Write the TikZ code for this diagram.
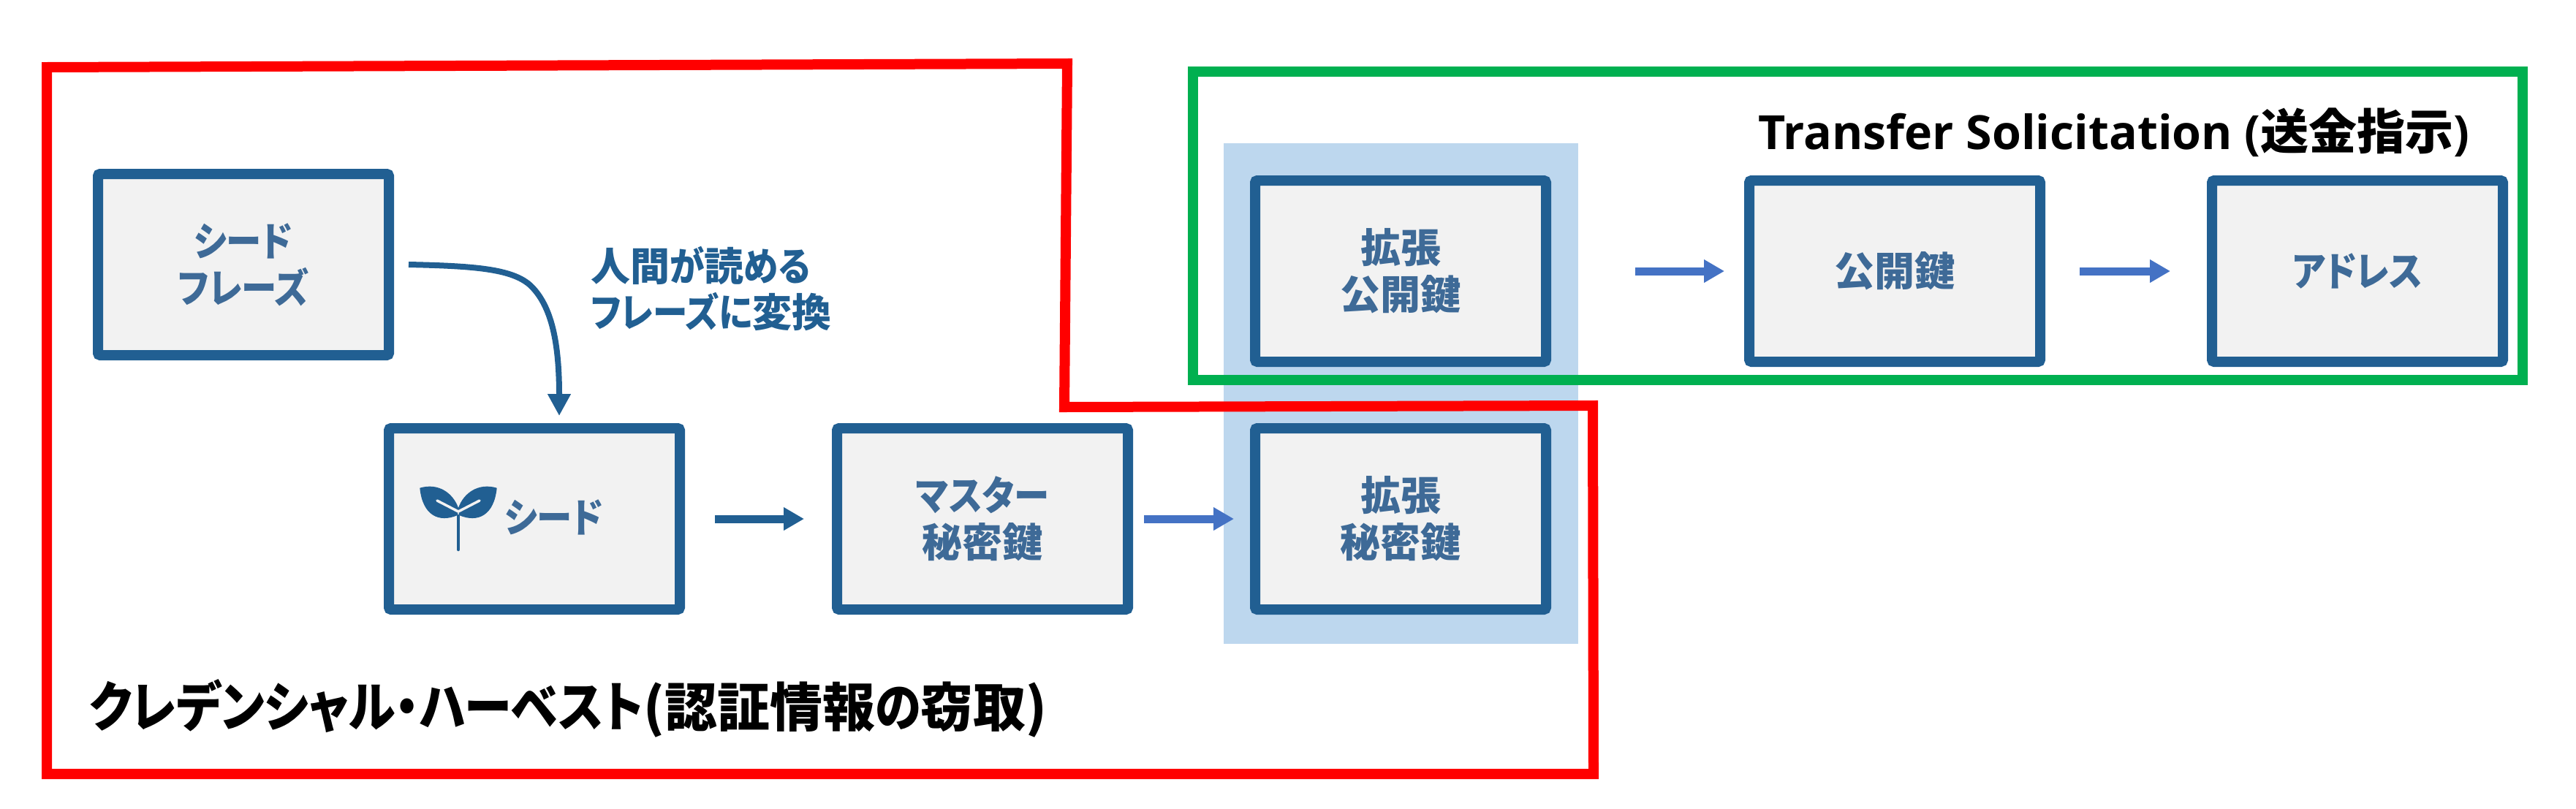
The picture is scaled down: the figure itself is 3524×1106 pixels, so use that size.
\documentclass[tikz,border=0pt]{standalone}
\usepackage{fontspec}
\usetikzlibrary{arrows.meta}
\newfontfamily\jp[RawFeature=+palt]{Noto Sans CJK JP}
\newfontfamily\jpk[RawFeature=+palt,FakeStretch=0.88]{Noto Sans CJK JP}
\newfontfamily\lat{Open Sans}
\newcommand{\kn}[1]{{\jpk\bfseries #1}}
\definecolor{boxblue}{HTML}{215F92}
\definecolor{boxfill}{HTML}{F2F2F2}
\definecolor{boxtext}{HTML}{3E6A97}
\definecolor{arrowblue}{HTML}{4472C4}
\definecolor{bandblue}{HTML}{BDD7EE}
\definecolor{framegreen}{HTML}{00B050}
\definecolor{framered}{HTML}{FF0000}
\tikzset{
  keybox/.style={draw=boxblue,fill=boxfill,line width=14pt,rounded corners=3pt,minimum width=398pt,minimum height=248pt,inner sep=0pt,outer sep=0pt,text=boxtext,align=center,font=\jp\bfseries\fontsize{55}{64}\selectfont},
  darrow/.style={draw=boxblue,line width=11pt,-{Triangle[length=28pt,width=30pt]}},
  larrow/.style={draw=arrowblue,line width=11pt,-{Triangle[length=28pt,width=30pt]}},
  carrow/.style={draw=boxblue,line width=8pt,-{Triangle[length=30pt,width=30pt]}},
  frame/.style={line width=14pt,miter limit=10},
  heading/.style={text=black,inner sep=0pt,outer sep=0pt,anchor=west},
  note/.style={text=boxblue,inner sep=0pt,outer sep=0pt,anchor=west,align=left,font=\jp\bfseries\fontsize{54}{63}\selectfont},
}
\begin{document}
\begin{tikzpicture}[x=1pt,y=-1pt]
\useasboundingbox (0,0) rectangle (3524,1106);
% band behind the extended keys
\fill[bandblue] (1674,196) rectangle (2159,881);
% frames
\draw[frame,draw=framegreen] (1632,98) rectangle (3451,520);
\draw[frame,draw=framered] (64,92) -- (1460,87) -- (1456,557) -- (2179,555) -- (2180,1059) -- (64,1059) -- cycle;
% boxes
\node[keybox] (phrase) at (333,362) {\kn{シード}\\\kn{フレーズ}};
\node[keybox] (seed) at (731,710) {};
\node[keybox] (master) at (1344,710) {\kn{マスター}\\秘密鍵};
\node[keybox] (extpriv) at (1916,710) {拡張\\秘密鍵};
\node[keybox] (extpub) at (1916,371) {拡張\\公開鍵};
\node[keybox] (pub) at (2592,371) {公開鍵};
\node[keybox] (addr) at (3225,371) {\kn{アドレス}};
% seed label and sprout
\node[text=boxtext,inner sep=0pt,font=\jp\bfseries\fontsize{55}{64}\selectfont] (seedlabel) at (758,708) {\kn{シード}};
\fill[boxblue] (574.3,667.7) .. controls (600,660) and (620,675) .. (627,695) -- (626,705) .. controls (600,716) and (578,705) .. (574.3,667.7) -- cycle;
\fill[boxblue] (679.7,667.7) .. controls (654,660) and (634,675) .. (627,695) -- (628,705) .. controls (654,716) and (676,705) .. (679.7,667.7) -- cycle;
\draw[boxfill,line width=3.5pt,line cap=round,line join=round] (598,685) -- (627,700) -- (656,685);
\draw[boxblue,line width=4.5pt,line cap=round] (627,706) -- (627,752);
% texts
\node[note] (convert) at (808,395) {人間\kn{が}読\kn{める}\\\kn{フレーズに}変換};
\node[heading,font=\jp\bfseries\fontsize{72}{72}\selectfont] (harvest) at (122,969) {{\fontsize{74}{74}\selectfont\kn{クレデンシャル・ハーベスト}}(認証情報\kn{の}窃取)};
\node[heading,font=\fontsize{64.5}{64.5}\selectfont] (transfer) at (2405,181) {\lat\bfseries Transfer Solicitation (\jp\bfseries\fontsize{66}{66}\selectfont 送金指示\lat\bfseries\fontsize{64.5}{64.5}\selectfont )};
% connectors
\coordinate (phraseout) at ([xshift=27pt]phrase.east);
\coordinate (seedin) at ([xshift=34pt,yshift=17pt]seed.north);
\draw[carrow] (phraseout) .. controls (650,364) and (700,368) .. (725,390) .. controls (755,418) and (765,470) .. (seedin);
\draw[darrow,shorten <=48pt,shorten >=45pt] (seed.east) -- (master.west);
\draw[larrow,shorten <=22pt,shorten >=29pt] (master.east) -- (extpriv.west);
\draw[larrow,shorten <=122pt,shorten >=34pt] (extpub.east) -- (pub.west);
\draw[larrow,shorten <=54pt,shorten >=57pt] (pub.east) -- (addr.west);
\end{tikzpicture}
\end{document}
